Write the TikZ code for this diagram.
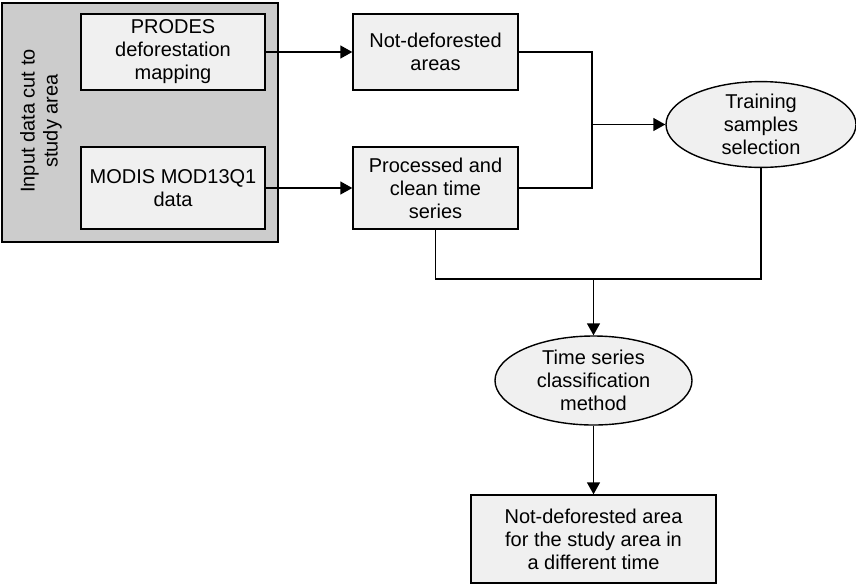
\documentclass[tikz,border=0pt]{standalone}
\usepackage{fontspec}
\setmainfont{Liberation Sans}
\usetikzlibrary{arrows.meta, shapes.geometric}

\begin{document}
\begin{tikzpicture}
		[
			x=1pt, y=-1pt,
			font=\fontsize{20}{23}\selectfont,
			every node/.style={inner sep=0pt, align=center, line width=1.4pt},
			databox/.style={rectangle, draw, fill=gray!12},
			stepellipse/.style={ellipse, draw, fill=gray!12},
			group/.style={rectangle, draw, line width=1.4pt, fill=gray!40},
			link/.style={line width=1.4pt},
			arr/.style={link, -{Triangle[length=12pt, width=13pt]}}
		]

		\useasboundingbox (0,0) rectangle (856,584);

		% Input group
		\node[group, minimum width=276pt, minimum height=239pt] (input) at (140,122.5) {};
		\node[rotate=90] (inputlabel) at (41,121) {Input data cut to\\study area};

		% Nodes
		\node[databox, minimum width=184pt, minimum height=76pt] (prodes) at (173,52) {PRODES\\deforestation\\mapping};
		\node[databox, minimum width=184pt, minimum height=82pt] (modis) at (173,188) {MODIS MOD13Q1\\data};
		\node[databox, minimum width=165pt, minimum height=76pt] (notdef) at (435.5,52) {Not-deforested\\areas};
		\node[databox, minimum width=165pt, minimum height=82pt] (clean) at (435.5,188) {Processed and\\clean time\\series};
		\node[stepellipse, minimum width=190pt, minimum height=69pt] (training) at (761,124.5) {Training\\samples\\selection};
		\node[stepellipse, minimum width=197pt, minimum height=89pt] (method) at (593.5,380.5) {Time series\\classification\\method};
		\node[databox, minimum width=245pt, minimum height=88pt] (result) at (593.5,539) {Not-deforested area\\for the study area in\\a different time};

		% Junctions
		\coordinate (jtop) at (592,124.5);
		\coordinate (jbot) at (593.5,279);

		% Edges
		\foreach \u/\v in
		{
			prodes/notdef,
			modis/clean,
			method/result}
			\draw[arr] (\u) -- (\v);

		\draw[link] (notdef.east) -| (jtop);
		\draw[link] (clean.east) -| (jtop);
		\draw[arr] (jtop) -- (training.west);
		\draw[link] (clean.south) |- (jbot) -| (training.south);
		\draw[arr] (jbot) -- (method.north);

		\end{tikzpicture}
\end{document}
